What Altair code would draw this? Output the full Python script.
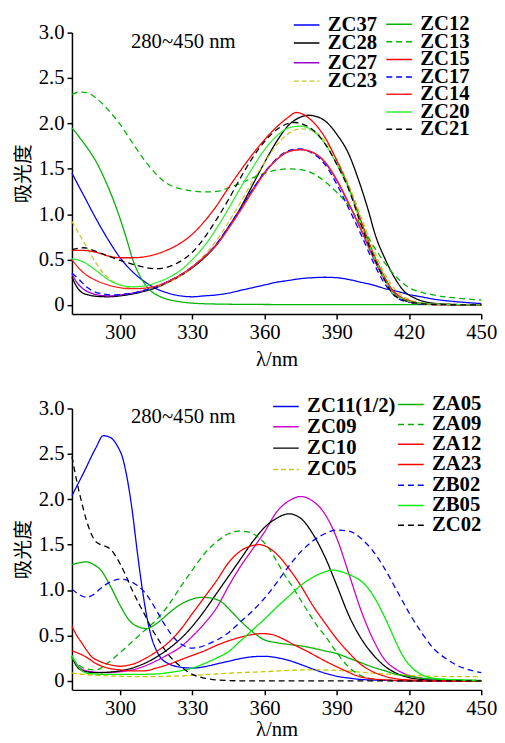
import altair as alt
import pandas as pd

# ---------------- data: panel 1 (wavelength nm, absorbance) ----------------
ZC37 = [(280,1.45),(285,1.20),(290,0.95),(295,0.72),(300,0.52),(305,0.37),(310,0.26),(315,0.18),(320,0.13),
        (325,0.10),(330,0.09),(335,0.10),(340,0.11),(345,0.13),(350,0.16),(355,0.19),(360,0.22),(365,0.25),
        (370,0.27),(375,0.29),(380,0.30),(385,0.305),(390,0.30),(395,0.28),(400,0.25),(405,0.22),(410,0.18),
        (415,0.15),(420,0.115),(425,0.09),(430,0.065),(440,0.035),(450,0.015)]
ZC28 = [(280,0.31),(282,0.20),(284,0.14),(287,0.11),(290,0.095),(295,0.09),(300,0.10),(305,0.12),(310,0.15),
        (315,0.19),(320,0.25),(325,0.32),(330,0.41),(335,0.52),(340,0.66),(345,0.85),(350,1.07),(355,1.32),
        (360,1.57),(365,1.80),(370,1.98),(375,2.07),(378,2.09),(381,2.08),(385,2.03),(390,1.88),(395,1.66),
        (399,1.38),(403,1.05),(406,0.77),(410,0.51),(414,0.30),(418,0.15),(422,0.08),(426,0.04),(430,0.02),
        (440,0.005),(450,0.0)]
ZC27 = [(280,0.34),(282,0.25),(285,0.17),(288,0.13),(292,0.105),(296,0.10),(300,0.11),(305,0.13),(310,0.16),
        (315,0.20),(320,0.26),(325,0.33),(330,0.42),(335,0.53),(340,0.67),(345,0.86),(350,1.06),(355,1.27),
        (360,1.46),(365,1.60),(370,1.69),(375,1.71),(380,1.68),(385,1.57),(390,1.37),(395,1.11),(400,0.83),
        (405,0.53),(410,0.27),(415,0.10),(420,0.035),(425,0.015),(430,0.005),(450,0.0)]
ZC23 = [(280,0.92),(283,0.78),(285,0.69),(288,0.55),(290,0.46),(295,0.30),(300,0.22),(305,0.185),(310,0.18),
        (315,0.20),(320,0.25),(325,0.32),(330,0.42),(335,0.55),(340,0.71),(345,0.91),(350,1.13),(355,1.36),
        (360,1.57),(365,1.76),(370,1.89),(375,1.94),(380,1.92),(385,1.81),(390,1.60),(395,1.32),(400,0.98),
        (405,0.63),(410,0.34),(415,0.15),(420,0.06),(425,0.025),(430,0.01),(440,0.005),(450,0.0)]
ZC12 = [(280,1.95),(285,1.78),(290,1.58),(295,1.30),(298,1.10),(300,0.95),(303,0.70),(305,0.52),(308,0.33),
        (310,0.24),(313,0.15),(316,0.10),(320,0.06),(325,0.035),(330,0.02),(340,0.01),(360,0.005),(400,0.003),
        (450,0.003)]
ZC13 = [(280,2.32),(283,2.345),(286,2.34),(290,2.28),(295,2.15),(300,1.99),(305,1.79),(310,1.60),(315,1.44),
        (320,1.33),(325,1.28),(330,1.255),(335,1.245),(340,1.25),(345,1.29),(350,1.34),(355,1.40),(360,1.45),
        (365,1.485),(370,1.50),(375,1.49),(380,1.45),(385,1.36),(390,1.24),(395,1.09),(400,0.88),(405,0.66),
        (410,0.46),(415,0.30),(420,0.19),(425,0.14),(430,0.11),(440,0.075),(450,0.055)]
ZC15 = [(280,0.60),(285,0.60),(290,0.58),(295,0.54),(300,0.52),(305,0.52),(310,0.53),(315,0.56),(320,0.61),
        (325,0.68),(330,0.78),(335,0.92),(340,1.09),(345,1.29),(350,1.48),(355,1.66),(360,1.82),(365,1.96),
        (370,2.07),(373,2.12),(376,2.10),(380,2.02),(385,1.85),(390,1.59),(395,1.29),(400,0.93),(405,0.58),
        (410,0.30),(413,0.17),(417,0.08),(420,0.05),(425,0.02),(430,0.01),(450,0.0)]
ZC17 = [(280,0.35),(283,0.28),(286,0.20),(289,0.15),(293,0.12),(297,0.11),(300,0.115),(305,0.13),(310,0.16),
        (315,0.20),(320,0.26),(325,0.33),(330,0.42),(335,0.53),(340,0.67),(345,0.86),(350,1.06),(355,1.27),
        (360,1.46),(365,1.61),(370,1.70),(375,1.72),(380,1.67),(385,1.55),(390,1.33),(395,1.06),(400,0.78),
        (405,0.48),(410,0.23),(415,0.08),(420,0.03),(425,0.01),(450,0.0)]
ZC14 = [(280,0.50),(283,0.40),(286,0.33),(290,0.27),(295,0.22),(300,0.19),(303,0.18),(307,0.18),(310,0.185),
        (315,0.21),(320,0.26),(325,0.33),(330,0.42),(335,0.53),(340,0.66),(345,0.84),(350,1.04),(355,1.25),
        (360,1.45),(365,1.60),(370,1.69),(375,1.71),(380,1.68),(385,1.58),(390,1.38),(395,1.12),(400,0.84),
        (405,0.54),(410,0.28),(415,0.11),(420,0.04),(425,0.015),(430,0.005),(450,0.0)]
ZC20 = [(280,0.51),(285,0.47),(290,0.38),(295,0.28),(300,0.22),(305,0.20),(310,0.21),(315,0.245),(320,0.30),
        (325,0.38),(330,0.50),(335,0.65),(340,0.84),(345,1.06),(350,1.29),(355,1.51),(360,1.71),(365,1.86),
        (370,1.95),(375,1.97),(380,1.92),(385,1.78),(390,1.55),(395,1.28),(400,0.90),(405,0.56),(410,0.28),
        (413,0.14),(417,0.07),(420,0.04),(425,0.02),(430,0.01),(450,0.0)]
ZC21 = [(280,0.61),(285,0.63),(290,0.59),(295,0.54),(300,0.49),(305,0.45),(310,0.415),(315,0.40),(320,0.42),
        (325,0.48),(330,0.58),(335,0.74),(340,0.94),(345,1.16),(350,1.40),(355,1.62),(360,1.80),(365,1.93),
        (370,2.00),(373,2.01),(376,1.99),(380,1.93),(385,1.78),(390,1.55),(395,1.27),(400,0.89),(405,0.55),
        (410,0.27),(413,0.13),(417,0.06),(420,0.035),(425,0.015),(430,0.005),(450,0.0)]

# ---------------- data: panel 2 ----------------
ZC11 = [(280,2.04),(285,2.30),(290,2.57),(293,2.70),(296,2.68),(299,2.58),(301,2.46),(303,2.22),(305,1.88),
        (307,1.45),(309,1.05),(311,0.72),(313,0.48),(315,0.34),(317,0.25),(320,0.19),(325,0.15),(330,0.14),
        (335,0.155),(340,0.185),(345,0.215),(350,0.245),(355,0.265),(360,0.27),(365,0.255),(370,0.225),
        (375,0.18),(380,0.13),(385,0.085),(390,0.05),(395,0.03),(400,0.015),(410,0.005),(420,0.0),(450,0.0)]
ZC09 = [(280,0.27),(283,0.15),(286,0.11),(290,0.095),(295,0.09),(300,0.10),(305,0.12),(310,0.16),(315,0.22),
        (320,0.29),(325,0.37),(330,0.49),(335,0.63),(340,0.80),(345,1.04),(350,1.26),(355,1.45),(360,1.64),
        (365,1.86),(370,1.98),(375,2.03),(380,1.98),(385,1.84),(390,1.57),(395,1.18),(400,0.78),(405,0.46),
        (410,0.23),(415,0.12),(420,0.06),(425,0.03),(430,0.01),(440,0.0),(450,0.0)]
ZC10 = [(280,0.26),(283,0.13),(286,0.10),(290,0.09),(295,0.095),(300,0.11),(305,0.14),(310,0.19),(315,0.26),
        (320,0.35),(325,0.46),(330,0.60),(335,0.77),(340,0.96),(345,1.15),(350,1.34),(355,1.53),(360,1.69),
        (365,1.79),(370,1.84),(375,1.79),(380,1.62),(385,1.37),(390,1.05),(395,0.72),(400,0.47),(405,0.29),
        (410,0.16),(415,0.08),(420,0.035),(425,0.015),(430,0.005),(450,0.0)]
ZC05 = [(280,0.085),(285,0.07),(290,0.06),(300,0.05),(310,0.045),(320,0.05),(330,0.06),(340,0.075),(350,0.09),
        (360,0.10),(370,0.115),(380,0.12),(390,0.115),(400,0.095),(410,0.075),(420,0.06),(430,0.05),(440,0.045),
        (450,0.045)]
ZA05 = [(280,1.28),(283,1.30),(286,1.31),(289,1.28),(292,1.22),(296,1.04),(300,0.83),(304,0.66),(308,0.59),
        (311,0.575),(314,0.61),(317,0.67),(320,0.74),(325,0.84),(330,0.90),(334,0.92),(338,0.91),(342,0.87),
        (346,0.77),(350,0.66),(355,0.54),(360,0.45),(365,0.42),(370,0.40),(375,0.385),(380,0.36),(385,0.33),
        (390,0.30),(395,0.25),(400,0.20),(405,0.15),(410,0.11),(415,0.07),(420,0.05),(425,0.03),(430,0.02),
        (440,0.01),(450,0.005)]
ZA09 = [(280,0.25),(283,0.17),(286,0.13),(290,0.12),(295,0.20),(300,0.31),(305,0.43),(310,0.55),(315,0.67),
        (320,0.83),(325,1.03),(330,1.22),(335,1.40),(340,1.53),(345,1.62),(349,1.65),(353,1.64),(358,1.57),
        (362,1.45),(365,1.32),(368,1.18),(372,1.02),(375,0.89),(379,0.72),(382,0.60),(385,0.50),(389,0.35),
        (392,0.24),(395,0.15),(399,0.07),(405,0.02),(410,0.01),(420,0.0),(450,0.0)]
ZA12 = [(280,0.60),(282,0.50),(284,0.42),(286,0.34),(288,0.27),(291,0.22),(294,0.19),(297,0.17),(300,0.16),
        (303,0.17),(306,0.19),(310,0.24),(315,0.32),(320,0.42),(325,0.56),(330,0.74),(335,0.92),(340,1.10),
        (345,1.30),(350,1.43),(355,1.49),(358,1.50),(362,1.46),(366,1.37),(370,1.24),(375,1.05),(380,0.83),
        (385,0.64),(390,0.46),(395,0.31),(400,0.18),(405,0.10),(410,0.05),(415,0.02),(420,0.01),(430,0.0),
        (450,0.0)]
ZA23 = [(280,0.33),(283,0.30),(286,0.26),(290,0.19),(295,0.14),(300,0.12),(305,0.11),(310,0.11),(315,0.14),
        (320,0.18),(325,0.23),(330,0.28),(335,0.33),(340,0.39),(345,0.44),(350,0.48),(355,0.51),(359,0.52),
        (363,0.51),(367,0.47),(372,0.40),(378,0.32),(385,0.22),(392,0.13),(399,0.05),(405,0.02),(410,0.01),
        (420,0.0),(450,0.0)]
ZB02 = [(280,1.01),(283,0.95),(286,0.92),(289,0.95),(292,1.02),(296,1.09),(300,1.12),(303,1.11),(306,1.07),
        (309,1.01),(312,0.91),(315,0.78),(318,0.64),(321,0.52),(324,0.43),(327,0.38),(330,0.36),(333,0.37),
        (337,0.41),(341,0.46),(345,0.53),(350,0.65),(355,0.77),(360,0.91),(365,1.08),(370,1.26),(375,1.42),
        (380,1.54),(385,1.62),(390,1.66),(395,1.65),(400,1.57),(405,1.43),(410,1.23),(415,0.99),(420,0.75),
        (425,0.54),(430,0.36),(435,0.25),(440,0.17),(445,0.12),(450,0.09)]
ZB05 = [(280,0.28),(283,0.14),(287,0.08),(295,0.07),(305,0.07),(315,0.075),(320,0.09),(325,0.11),(330,0.14),
        (335,0.19),(340,0.25),(345,0.32),(350,0.44),(355,0.56),(360,0.68),(365,0.81),(370,0.93),(375,1.05),
        (380,1.14),(385,1.20),(388,1.22),(392,1.20),(396,1.16),(400,1.10),(403,1.02),(406,0.90),(409,0.75),
        (412,0.58),(415,0.40),(418,0.25),(421,0.15),(425,0.07),(430,0.03),(440,0.01),(450,0.0)]
ZC02 = [(280,2.47),(282,2.20),(284,1.97),(286,1.77),(288,1.62),(290,1.53),(292,1.50),(294,1.48),(296,1.45),
        (298,1.38),(300,1.29),(302,1.18),(305,1.00),(308,0.84),(310,0.74),(313,0.58),(316,0.45),(320,0.29),
        (325,0.16),(330,0.07),(335,0.03),(340,0.01),(350,0.0),(450,0.0)]

SERIES = {
    "ZC37": ZC37, "ZC28": ZC28, "ZC27": ZC27, "ZC23": ZC23, "ZC12": ZC12, "ZC13": ZC13, "ZC15": ZC15,
    "ZC17": ZC17, "ZC14": ZC14, "ZC20": ZC20, "ZC21": ZC21,
    "ZC11(1/2)": ZC11, "ZC09": ZC09, "ZC10": ZC10, "ZC05": ZC05, "ZA05": ZA05, "ZA09": ZA09,
    "ZA12": ZA12, "ZA23": ZA23, "ZB02": ZB02, "ZB05": ZB05, "ZC02": ZC02,
}

# legend entries: name, colour, dash pattern (two columns per panel)
P1_LEFT = ["ZC37", "ZC28", "ZC27", "ZC23"]
P1_LEFT_COLORS = ["#0000ff", "#000000", "#9900cc", "#c8c832"]
P1_LEFT_DASH = [[1, 0], [1, 0], [1, 0], [5, 3]]
P1_RIGHT = ["ZC12", "ZC13", "ZC15", "ZC17", "ZC14", "ZC20", "ZC21"]
P1_RIGHT_COLORS = ["#00b400", "#00b400", "#ff0000", "#0000ff", "#ff2020", "#33ee33", "#000000"]
P1_RIGHT_DASH = [[1, 0], [6, 4], [1, 0], [6, 4], [1, 0], [1, 0], [6, 4]]

P2_LEFT = ["ZC11(1/2)", "ZC09", "ZC10", "ZC05"]
P2_LEFT_COLORS = ["#0000ff", "#cc00cc", "#000000", "#c8c800"]
P2_LEFT_DASH = [[1, 0], [1, 0], [1, 0], [5, 3]]
P2_RIGHT = ["ZA05", "ZA09", "ZA12", "ZA23", "ZB02", "ZB05", "ZC02"]
P2_RIGHT_COLORS = ["#00b000", "#00b000", "#ff0000", "#ff0000", "#0000ff", "#00ee00", "#000000"]
P2_RIGHT_DASH = [[1, 0], [6, 4], [1, 0], [1, 0], [6, 4], [1, 0], [6, 4]]

# legend placement (pixels relative to each plot's top-left corner)
P1_LEFT_X, P1_RIGHT_X = 228, 322
P1_LEFT_Y = [-18.2, 0.1, 20.1, 38.8]
P1_RIGHT_Y = [-18.9, -1.2, 16.8, 34.5, 52.1, 70.1, 87.8]
P2_LEFT_X, P2_RIGHT_X = 207, 334
P2_LEFT_Y = [-12.5, 8.1, 29.8, 51.5]
P2_RIGHT_Y = [-14.5, 5.8, 25.8, 46.5, 67.5, 88.1, 108.1]

ANNOT_TEXT = ["280~450 nm"]
ANNOT_WL = [304.5]
ANNOT_A = [2.9]

X_TICKS = [300, 330, 360, 390, 420, 450]
Y_TICKS = [0, 0.5, 1.0, 1.5, 2.0, 2.5, 3.0]

W, H = 416, 286
SERIF = "Times New Roman, Liberation Serif, Tinos, DejaVu Serif, serif"


def xy(tpad):
    x = alt.X("wl:Q", scale=alt.Scale(domain=[280, 450], nice=False, zero=False),
              axis=alt.Axis(values=X_TICKS, title="λ/nm", titlePadding=tpad))
    y = alt.Y("A:Q", scale=alt.Scale(domain=[-0.1, 3.0], nice=False, zero=False),
              axis=alt.Axis(values=Y_TICKS, title="吸光度",
                            labelExpr="datum.value == 0 ? '0' : format(datum.value, '.1f')"))
    return x, y


def series_layer(name, color, dash, lx, ly, tpad):
    df = pd.DataFrame([{"series": name, "wl": wl, "A": a} for wl, a in SERIES[name]])
    leg = alt.Legend(orient="none", legendX=lx, legendY=ly, title=None, symbolType="M-2,0H2",
                     symbolSize=169, symbolStrokeWidth=1.5, labelFont=SERIF,
                     labelFontSize=21, labelFontWeight="bold", labelColor="black",
                     padding=0, labelOffset=11, labelLimit=300)
    x, y = xy(tpad)
    return alt.Chart(df).mark_line(strokeWidth=1.3, interpolate="monotone").encode(
        x=x, y=y,
        color=alt.Color("series:N", scale=alt.Scale(domain=[name], range=[color]), legend=leg),
        strokeDash=alt.StrokeDash("series:N", scale=alt.Scale(domain=[name], range=[dash]), legend=leg),
    )


def annotation(tpad):
    x, y = xy(tpad)
    df = pd.DataFrame({"t": ANNOT_TEXT, "wl": ANNOT_WL, "A": ANNOT_A})
    return alt.Chart(df).mark_text(align="left", baseline="middle", font=SERIF,
                                   fontSize=21, color="black").encode(x=x, y=y, text="t:N")


def panel(groups, tpad):
    layers = []
    for names, colors, dashes, lx, lys in groups:
        for n, c, d, ly in zip(names, colors, dashes, lys):
            layers.append(series_layer(n, c, d, lx, ly, tpad))
    layers.append(annotation(tpad))
    return alt.layer(*layers).resolve_scale(color="independent", strokeDash="independent").properties(
        width=W, height=H)


p1 = panel([
    (P1_LEFT, P1_LEFT_COLORS, P1_LEFT_DASH, P1_LEFT_X, P1_LEFT_Y),
    (P1_RIGHT, P1_RIGHT_COLORS, P1_RIGHT_DASH, P1_RIGHT_X, P1_RIGHT_Y),
], 6)
p2 = panel([
    (P2_LEFT, P2_LEFT_COLORS, P2_LEFT_DASH, P2_LEFT_X, P2_LEFT_Y),
    (P2_RIGHT, P2_RIGHT_COLORS, P2_RIGHT_DASH, P2_RIGHT_X, P2_RIGHT_Y),
], 0)

chart = alt.vconcat(p1, p2, spacing=25).properties(
    padding={"left": 5, "top": 0, "right": 0, "bottom": 0}
).configure_view(stroke=None).configure_axis(
    grid=False, domainColor="black", domainWidth=1.5, tickColor="black", tickWidth=1.5, tickSize=5,
    labelFont=SERIF, labelFontSize=21, labelColor="black", labelPadding=3,
    titleFont=SERIF, titleFontSize=21, titleFontWeight="normal", titleColor="black",
).configure_axisY(
    titleFont="Noto Sans CJK SC", titleFontSize=20, titlePadding=5,
).configure_axisX(
    labelFlush=False,
)

chart.save("out.html", embed_options={"renderer": "svg", "actions": False})
